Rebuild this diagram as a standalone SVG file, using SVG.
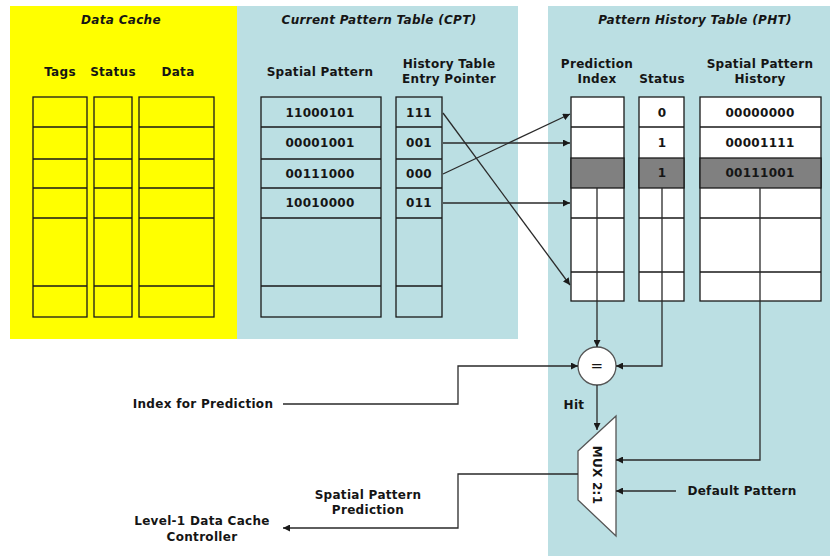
<svg xmlns="http://www.w3.org/2000/svg" width="830" height="556" viewBox="0 0 830 556">
<style>
text{font-family:"DejaVu Sans","Verdana",sans-serif;font-weight:bold;font-size:12px;letter-spacing:0.3px;fill:#151515;text-anchor:middle;dominant-baseline:central}
.title{font-style:italic}
.cell{fill:none;stroke:#1a1a1a;stroke-width:1.3}
.wcell{fill:#fff;stroke:#1a1a1a;stroke-width:1.3}
.gcell{fill:#808080;stroke:#1a1a1a;stroke-width:1.3}
.ln{fill:none;stroke:#2a2a2a;stroke-width:1.3}
</style>
<defs>
<marker id="ah" viewBox="0 0 10 10" refX="10" refY="5" markerWidth="7" markerHeight="7" markerUnits="userSpaceOnUse" orient="auto">
<path d="M0,0 L10,5 L0,10 z" fill="#1a1a1a"/>
</marker>
</defs>
<rect x="0" y="0" width="830" height="556" fill="#fff"/>

<g id="data-cache">
<rect x="10" y="6" width="227" height="333" fill="#ffff00"/>
<text class="title" x="121" y="20">Data Cache</text>
<text x="60" y="72">Tags</text>
<text x="113" y="72">Status</text>
<text x="178" y="72">Data</text>
<g class="cell">
<rect x="33" y="97" width="54" height="220"/>
<rect x="94" y="97" width="38" height="220"/>
<rect x="139" y="97" width="75" height="220"/>
<path d="M33,127H87M33,159H87M33,188H87M33,218H87M33,286H87M94,127H132M94,159H132M94,188H132M94,218H132M94,286H132M139,127H214M139,159H214M139,188H214M139,218H214M139,286H214"/>
</g>
</g>

<g id="cpt">
<rect x="237" y="6" width="281" height="333" fill="#bbdfe3"/>
<text class="title" x="379" y="20">Current Pattern Table (CPT)</text>
<text x="320" y="72">Spatial Pattern</text>
<text x="449" y="64">History Table</text>
<text x="449" y="79">Entry Pointer</text>
<g class="cell">
<rect x="261" y="97" width="120" height="220"/>
<rect x="396" y="97" width="46" height="220"/>
<path d="M261,127H381M261,159H381M261,188H381M261,218H381M261,286H381M396,127H442M396,159H442M396,188H442M396,218H442M396,286H442"/>
</g>
<text x="320" y="113">11000101</text>
<text x="320" y="143">00001001</text>
<text x="320" y="174">00111000</text>
<text x="320" y="203">10010000</text>
<text x="419" y="113">111</text>
<text x="419" y="143">001</text>
<text x="419" y="174">000</text>
<text x="419" y="203">011</text>
</g>

<g id="pht">
<rect x="548" y="6" width="282" height="550" fill="#bbdfe3"/>
<text class="title" x="695" y="20">Pattern History Table (PHT)</text>
<text x="597" y="64">Prediction</text>
<text x="597" y="79">Index</text>
<text x="662" y="79">Status</text>
<text x="760" y="64">Spatial Pattern</text>
<text x="760" y="79">History</text>
<g>
<rect class="wcell" x="571" y="97" width="53" height="204"/>
<rect class="wcell" x="639" y="97" width="45" height="204"/>
<rect class="wcell" x="700" y="97" width="121" height="204"/>
<rect class="gcell" x="571" y="158" width="53" height="30"/>
<rect class="gcell" x="639" y="158" width="45" height="30"/>
<rect class="gcell" x="700" y="158" width="121" height="30"/>
<path class="cell" d="M571,127H624M571,218H624M571,272H624M639,127H684M639,218H684M639,272H684M700,127H821M700,218H821M700,272H821"/>
</g>
<text x="662" y="113">0</text>
<text x="662" y="143">1</text>
<text x="662" y="173">1</text>
<text x="760" y="113">00000000</text>
<text x="760" y="143">00001111</text>
<text x="760" y="173">00111001</text>
</g>

<g id="comparator">
<circle cx="597" cy="366" r="19" fill="#fff" stroke="#555" stroke-width="1.3"/>
<text x="597" y="366" style="font-weight:normal;font-size:15px">=</text>
</g>

<g id="mux">
<polygon points="578,451 616,416 616,536 578,500" fill="#fff" stroke="#555" stroke-width="1.3"/>
<text x="597" y="475" transform="rotate(90 597 475)">MUX 2:1</text>
</g>

<g id="labels">
<text x="203" y="404">Index for Prediction</text>
<text x="574" y="405">Hit</text>
<text x="742" y="491">Default Pattern</text>
<text x="368" y="495">Spatial Pattern</text>
<text x="368" y="510">Prediction</text>
<text x="202" y="521">Level-1 Data Cache</text>
<text x="202" y="537">Controller</text>
</g>

<g id="connectors" class="ln">
<path d="M443,113L570,285" marker-end="url(#ah)"/>
<path d="M443,143H570" marker-end="url(#ah)"/>
<path d="M443,174L570,114" marker-end="url(#ah)"/>
<path d="M443,203H570" marker-end="url(#ah)"/>
<path d="M597,188V347" marker-end="url(#ah)"/>
<path d="M662,188V366H616" marker-end="url(#ah)"/>
<path d="M283,404H458V366H578" marker-end="url(#ah)"/>
<path d="M597,385V430" marker-end="url(#ah)"/>
<path d="M760,188V460H616" marker-end="url(#ah)"/>
<path d="M676,491H616" marker-end="url(#ah)"/>
<path d="M578,474H458V528H283" marker-end="url(#ah)"/>
</g>
</svg>
